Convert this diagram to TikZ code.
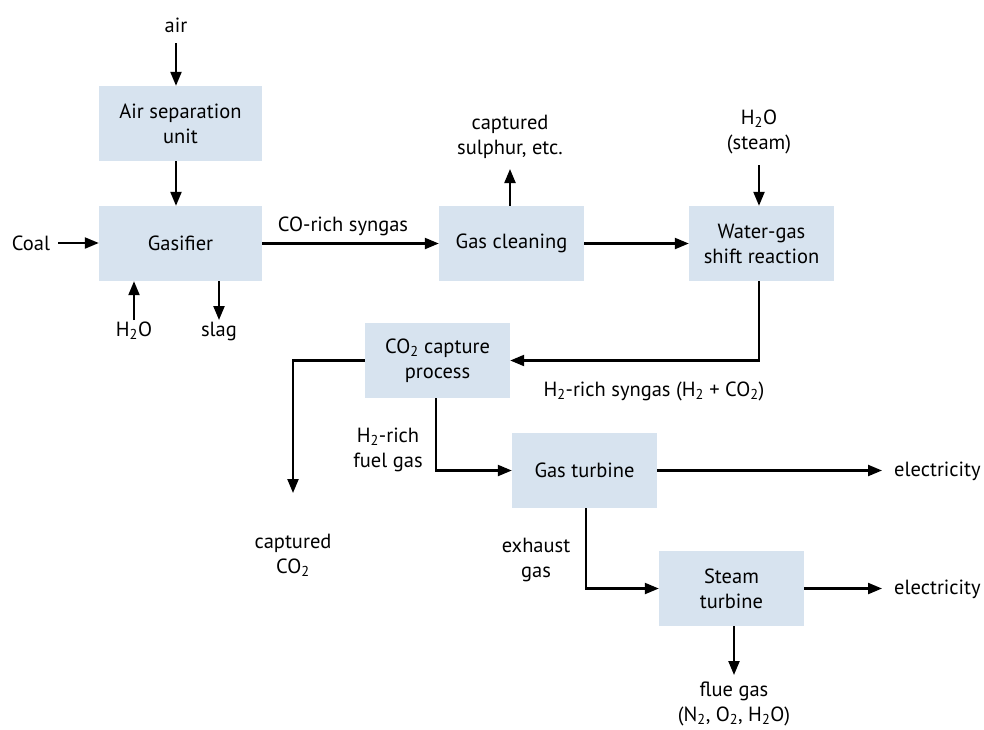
\documentclass[tikz,border=0pt]{standalone}
\usepackage{fontspec}
\setmainfont{PT Sans}
\usetikzlibrary{arrows.meta,calc}
\definecolor{boxblue}{RGB}{215,227,239}
\begin{document}
\begin{tikzpicture}[x=1pt,y=-1pt,
  font=\fontsize{20.5}{25}\selectfont,
  proc/.style={fill=boxblue,draw=none,minimum width=145pt,minimum height=75pt,align=center,inner sep=0pt},
  wproc/.style={proc,minimum width=163pt},
  lbl/.style={align=center,inner sep=0pt},
  arr/.style={line width=2.2pt,-{Triangle[length=14pt,width=11pt]}},
  ln/.style={line width=2.2pt}]
\useasboundingbox (0,0) rectangle (984,729);
% boxes
\node[wproc] (asu) at (180.5,123.5) {Air separation\\unit};
\node[wproc] (gas) at (180.5,243.5) {Gasifier};
\node[proc] (clean) at (511.5,243.5) {Gas cleaning};
\node[proc] (wgs) at (761.5,243.5) {Water-gas\\shift reaction};
\node[proc] (cap) at (437.5,360.5) {CO\textsubscript{2} capture\\process};
\node[proc] (gt) at (584.5,470.5) {Gas turbine};
\node[proc] (st) at (731.5,588.5) {Steam\\turbine};
% labels
\node[lbl] (air) at (176,25) {air};
\node[lbl] (coal) at (31,243) {Coal};
\node[lbl] (h2oin) at (134,331) {H\textsubscript{2}O};
\node[lbl] (slag) at (219,331) {slag};
\node[lbl] (corich) at (343,226) {CO-rich syngas};
\node[lbl] (sulph) at (510,137) {captured\\sulphur, etc.};
\node[lbl] (steam) at (759,132) {H\textsubscript{2}O\\(steam)};
\node[lbl] (h2syn) at (654,391) {H\textsubscript{2}-rich syngas (H\textsubscript{2} + CO\textsubscript{2})};
\node[lbl] (fuel) at (388,450) {H\textsubscript{2}-rich\\fuel gas};
\node[lbl] (capco2) at (293,555) {captured\\CO\textsubscript{2}};
\node[lbl] (exh) at (536,560) {exhaust\\gas};
\node[lbl,anchor=west] (el1) at (894,471) {electricity};
\node[lbl,anchor=west] (el2) at (894,589) {electricity};
\node[lbl] (flue) at (734,704) {flue gas\\(N\textsubscript{2}, O\textsubscript{2}, H\textsubscript{2}O)};
% coordinates
\coordinate (airs) at (176,43);
\coordinate (coals) at (58,243);
\coordinate (h2os) at (134,320);
\coordinate (slage) at (219,320);
\coordinate (sulphe) at (510,169);
\coordinate (steams) at (759,165);
\coordinate (capco2e) at (293,493);
\coordinate (ele) at (882,0);
\coordinate (fluee) at (734,675);
% connectors
\draw[arr] (airs) -- (asu.north -| airs);
\draw[arr] (asu.south -| airs) -- (gas.north -| airs);
\draw[arr] (coals) -- (gas.west |- coals);
\draw[arr] (h2os) -- (gas.south -| h2os);
\draw[arr] (gas.south -| slage) -- (slage);
\draw[arr] (gas.east) -- (clean.west);
\draw[arr] (clean.north -| sulphe) -- (sulphe);
\draw[arr] (clean.east) -- (wgs.west);
\draw[arr] (steams) -- (wgs.north -| steams);
\draw[arr] (wgs.south -| steams) |- (cap.east);
\draw[arr] (cap.west) -| (capco2e);
\draw[arr] (cap.south -| 436,0) |- (gt.west);
\draw[arr] (gt.east) -- (gt.east -| ele);
\draw[arr] (gt.south -| 586,0) |- (st.west);
\draw[arr] (st.east) -- (st.east -| ele);
\draw[arr] (st.south -| fluee) -- (fluee);
\end{tikzpicture}
\end{document}
